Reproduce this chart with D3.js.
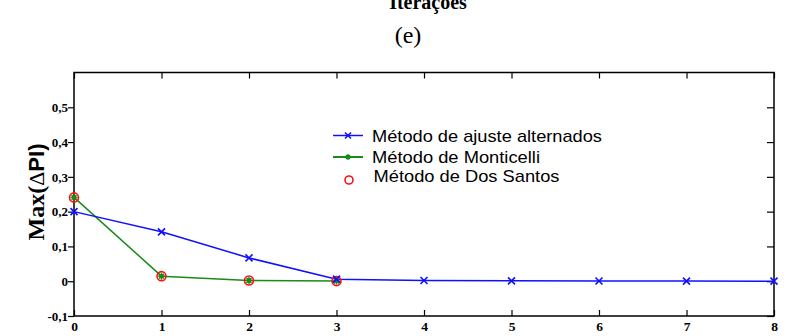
<!DOCTYPE html>
<html><head><meta charset="utf-8">
<script src="https://cdn.jsdelivr.net/npm/d3@7"></script>
<style>body{margin:0;background:#fff}svg{display:block}</style>
</head><body>
<script>
const iterations = [0,1,2,3,4,5,6,7,8];
const ajusteAlternados = [0.200,0.142,0.067,0.006,0.002,0.001,0.0005,0.0003,0.0002];
const monticelliIter = [0,1,2,3];
const monticelli = [0.241,0.0145,0.002,0.0003];
const dosSantosIter = [0,1,2,3];
const dosSantos = [0.241,0.0145,0.002,0.0003];
const yTicks = [-0.1,0,0.1,0.2,0.3,0.4,0.5];
const yTickLabels = ["-0,1","0","0,1","0,2","0,3","0,4","0,5"];
const legendLabels = ["Método de ajuste alternados","Método de Monticelli","Método de Dos Santos"];
const legendWidths = [230,168,186];

const W=788,H=336;
const svg=d3.select("body").append("svg").attr("width",W).attr("height",H);
const L=74,R=774,T=72.5,B=316;
const x=d3.scaleLinear().domain([0,8]).range([L,R]);
const y=d3.scaleLinear().domain([-0.1,0.6]).range([B,T]);
const serif="Liberation Serif, Times New Roman, serif";

// titles
svg.append("text").attr("x",428).attr("y",9).attr("text-anchor","middle")
  .attr("font-family",serif).attr("font-weight","bold").attr("font-size",20).text("Iterações");
svg.append("text").attr("x",408).attr("y",43).attr("text-anchor","middle")
  .attr("font-family",serif).attr("font-size",24).text("(e)");

// axes box
svg.append("rect").attr("x",L).attr("y",T).attr("width",R-L).attr("height",B-T)
  .attr("fill","none").attr("stroke","#000").attr("stroke-width",1.5);

// bottom axis
const gx=svg.append("g").attr("transform",`translate(0,${B})`)
  .call(d3.axisBottom(x).tickValues(iterations).tickFormat(d3.format("d")).tickSizeInner(-6).tickSizeOuter(0));
gx.select(".domain").remove();
gx.selectAll("text").attr("font-family",serif).attr("font-weight","bold").attr("font-size",13.5).attr("y",5).attr("dy","0.71em").attr("fill","#000");
// top ticks
const gxt=svg.append("g").attr("transform",`translate(0,${T})`)
  .call(d3.axisTop(x).tickValues(iterations).tickSizeInner(-6).tickSizeOuter(0).tickFormat(""));
gxt.select(".domain").remove();

// left axis
const gy=svg.append("g").attr("transform",`translate(${L},0)`)
  .call(d3.axisLeft(y).tickValues(yTicks).tickFormat((d,i)=>yTickLabels[i]).tickSizeInner(6).tickSizeOuter(0).tickPadding(0));
gy.select(".domain").remove();
gy.selectAll("text").attr("font-family",serif).attr("font-weight","bold").attr("font-size",13).attr("fill","#000");
// right ticks
const gyr=svg.append("g").attr("transform",`translate(${R},0)`)
  .call(d3.axisRight(y).tickValues(yTicks).tickSizeInner(-7).tickSizeOuter(0).tickFormat(""));
gyr.select(".domain").remove();
svg.selectAll(".tick line").attr("stroke","#000").attr("stroke-width",1.2);

// y title
const yt=svg.append("text").attr("transform","translate(44,192) rotate(-90)").attr("text-anchor","middle")
  .attr("font-weight","bold").attr("font-size",24);
yt.append("tspan").attr("font-family",serif).text("Max(");
yt.append("tspan").attr("font-family",serif).attr("font-weight","normal").attr("font-size",22).text("Δ");
yt.append("tspan").attr("font-family","Liberation Sans, Arial, sans-serif").attr("font-size",22).text("PI)");

// lines
const line=d3.line().x(d=>x(d[0])).y(d=>y(d[1]));
const blueData=iterations.map((d,i)=>[d,ajusteAlternados[i]]);
const greenData=monticelliIter.map((d,i)=>[d,monticelli[i]]);
const redData=dosSantosIter.map((d,i)=>[d,dosSantos[i]]);

svg.append("path").datum(greenData).attr("d",line).attr("fill","none").attr("stroke","#1a8a1a").attr("stroke-width",1.5);
svg.append("path").datum(blueData).attr("d",line).attr("fill","none").attr("stroke","#1010ff").attr("stroke-width",1.5);

function xMark(sel,cx,cy,s,col){
  sel.append("path").attr("d",`M${cx-s},${cy-s}L${cx+s},${cy+s}M${cx-s},${cy+s}L${cx+s},${cy-s}`)
    .attr("stroke",col).attr("stroke-width",1.6).attr("fill","none");
}
function star(sel,cx,cy,s,col){
  sel.append("circle").attr("cx",cx).attr("cy",cy).attr("r",s*0.7).attr("fill",col);
  sel.append("path").attr("d",`M${cx-s},${cy}L${cx+s},${cy}M${cx},${cy-s}L${cx},${cy+s}M${cx-s*0.7},${cy-s*0.7}L${cx+s*0.7},${cy+s*0.7}M${cx-s*0.7},${cy+s*0.7}L${cx+s*0.7},${cy-s*0.7}`)
    .attr("stroke",col).attr("stroke-width",1.3);
}
const mk=svg.append("g");
redData.forEach(d=>mk.append("circle").attr("cx",x(d[0])).attr("cy",y(d[1])).attr("r",4.5).attr("fill","none").attr("stroke","#ff1010").attr("stroke-width",1.6));
greenData.forEach(d=>star(mk,x(d[0]),y(d[1]),3.5,"#1a8a1a"));
blueData.forEach(d=>xMark(mk,x(d[0]),y(d[1]),3.5,"#1010ff"));

// legend
const lg=svg.append("g").attr("font-family","Liberation Sans, Arial, sans-serif").attr("font-size",17).attr("fill","#000");
const rows=[141.5,162.5,182];
lg.append("line").attr("x1",333).attr("x2",363).attr("y1",135.5).attr("y2",135.5).attr("stroke","#1010ff").attr("stroke-width",1.5);
xMark(lg,348,135.5,3,"#1010ff");
lg.append("line").attr("x1",333).attr("x2",363).attr("y1",157).attr("y2",157).attr("stroke","#1a8a1a").attr("stroke-width",2);
star(lg,348,157,3,"#1a8a1a");
lg.append("circle").attr("cx",349).attr("cy",180).attr("r",4).attr("fill","none").attr("stroke","#ff1010").attr("stroke-width",1.6);
legendLabels.forEach((t,i)=>lg.append("text").attr("x",i==2?373.5:372).attr("y",rows[i])
  .attr("textLength",legendWidths[i]).attr("lengthAdjust","spacingAndGlyphs").text(t));
</script>
</body></html>
